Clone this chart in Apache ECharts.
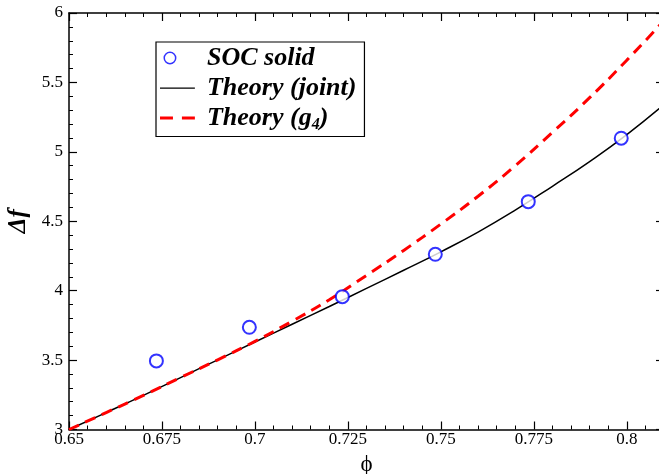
<!DOCTYPE html>
<html>
<head>
<meta charset="utf-8">
<script src="https://cdn.jsdelivr.net/npm/echarts@6/dist/echarts.min.js"></script>
<style>html,body{margin:0;padding:0;background:#fff;}#c{width:659px;height:474px;}</style>
</head>
<body>
<div id="c"></div>
<script>
// Data
const socX = [0.6735, 0.6985, 0.7235, 0.7485, 0.7735, 0.7985];
const socY = [3.494, 3.736, 3.957, 4.262, 4.641, 5.098];

const theoryX = [0.65, 0.66, 0.67, 0.68, 0.69, 0.70, 0.71, 0.72, 0.73, 0.74, 0.75, 0.76, 0.77, 0.78, 0.79, 0.80, 0.81];
const jointY  = [3.000, 3.122, 3.246, 3.374, 3.502, 3.630, 3.758, 3.886, 4.016, 4.147, 4.280, 4.422, 4.580, 4.752, 4.930, 5.124, 5.340];
const g4Y     = [3.000, 3.122, 3.246, 3.374, 3.502, 3.635, 3.780, 3.935, 4.110, 4.290, 4.480, 4.680, 4.900, 5.140, 5.390, 5.660, 5.945];

const xTicks = ['0.65', '0.675', '0.7', '0.725', '0.75', '0.775', '0.8'];
const yTicks = ['3', '3.5', '4', '4.5', '5', '5.5', '6'];

const seriesNames = ['SOC solid', 'Theory (joint)', 'Theory (g4)'];

const zip = (xs, ys) => xs.map((x, i) => [x, ys[i]]);

const chart = echarts.init(document.getElementById('c'), null, {renderer: 'canvas'});
const serif = 'Liberation Serif, Times New Roman, serif';
const axisCommon = {
  type: 'value',
  axisLine: {show: true, onZero: false, lineStyle: {color: '#000', width: 1.5}},
  axisTick: {show: true, inside: true, length: 8, lineStyle: {color: '#000', width: 1.2}},
  minorTick: {show: true, splitNumber: 5, length: 4, lineStyle: {color: '#000', width: 1}},
  splitLine: {show: false},
  minorSplitLine: {show: false}
};
const box = 'M0,0h0.05v0.05h-0.05zM0,14h0.05v0.05h-0.05zM35,0h0.05v0.05h-0.05zM35,14h0.05v0.05h-0.05z';
const ringIcon = 'path://' + box + 'M3.5,7a6.5,6.5 0 1,0 13,0a6.5,6.5 0 1,0 -13,0zM5,7a5,5 0 1,1 10,0a5,5 0 1,1 -10,0z';
const solidIcon = 'path://' + box + 'M0,6.4h35v1.3h-35z';
const dashIcon = 'path://' + box + 'M0,5.5h13v3h-13zM22,5.5h13v3h-13z';
const lf = {fontFamily: serif, fontWeight: 'bold', fontStyle: 'italic', color: '#000'};
chart.setOption({
  animation: false,
  backgroundColor: '#fff',
  grid: {left: 69, right: -5, top: 13, bottom: 44.5, containLabel: false, outerBoundsMode: 'none'},
  legend: {
    orient: 'vertical',
    left: 156, top: 42,
    padding: [3, 8, 4, 4],
    borderColor: '#000', borderWidth: 1.2,
    backgroundColor: '#fff',
    itemWidth: 35, itemHeight: 14, itemGap: 4,
    data: [
      {name: seriesNames[0], icon: ringIcon, itemStyle: {color: '#0000ff', borderWidth: 0}},
      {name: seriesNames[1], icon: solidIcon, itemStyle: {color: '#000', borderWidth: 0}},
      {name: seriesNames[2], icon: dashIcon, itemStyle: {color: '#f00', borderWidth: 0}}
    ],
    formatter: function (n) {
      if (n === 'Theory (g4)') return '{p|Theory (g}{s|4}{a|)}';
      return '{p|' + n + '}';
    },
    textStyle: Object.assign({fontSize: 26}, lf, {
      rich: {
        p: Object.assign({fontSize: 26, padding: [0, 0, 0, 7]}, lf),
        a: Object.assign({fontSize: 26}, lf),
        s: Object.assign({fontSize: 16, verticalAlign: 'bottom', padding: [13, 0, 0, 0]}, lf)
      }
    })
  },
  xAxis: [
    Object.assign({}, axisCommon, {
      position: 'bottom', min: 0.65, max: 0.81, interval: 0.025,
      name: 'ϕ', nameLocation: 'middle', nameGap: 24, nameMoveOverlap: false,
      nameTextStyle: {fontFamily: serif, fontSize: 23, color: '#000'},
      axisLabel: {
        show: true, color: '#000', fontFamily: serif, fontSize: 17, margin: 2, showMaxLabel: false,
        formatter: v => { const i = Math.round((v - 0.65) / 0.025); return xTicks[i] !== undefined ? xTicks[i] : ''; }
      }
    }),
    Object.assign({}, axisCommon, {
      position: 'top', min: 0.65, max: 0.81, interval: 0.025,
      axisLabel: {show: false}
    })
  ],
  yAxis: [
    Object.assign({}, axisCommon, {
      position: 'left', min: 3, max: 6, interval: 0.5,
      name: 'Δf', nameLocation: 'middle', nameGap: 38, nameRotate: 90, nameMoveOverlap: false,
      nameTextStyle: {fontFamily: serif, fontSize: 25, fontWeight: 'bold', fontStyle: 'italic', color: '#000'},
      axisLabel: {
        show: true, color: '#000', fontFamily: serif, fontSize: 17, margin: 6,
        formatter: v => { const i = Math.round((v - 3) / 0.5); return yTicks[i] !== undefined ? yTicks[i] : ''; }
      }
    }),
    Object.assign({}, axisCommon, {
      position: 'right', min: 3, max: 6, interval: 0.5,
      axisLabel: {show: false}
    })
  ],
  series: [
    {
      name: seriesNames[1], type: 'line', data: zip(theoryX, jointY), smooth: true,
      symbol: 'none', lineStyle: {color: '#000', width: 1.5}, itemStyle: {color: '#000'}, z: 2
    },
    {
      name: seriesNames[2], type: 'line', data: zip(theoryX, g4Y), smooth: true,
      symbol: 'none', lineStyle: {color: '#f00', width: 3, type: [11, 7]}, itemStyle: {color: '#f00'}, z: 3
    },
    {
      name: seriesNames[0], type: 'scatter', data: zip(socX, socY),
      symbol: 'emptyCircle', symbolSize: 13,
      itemStyle: {color: '#0000ff', borderColor: '#0000ff', borderWidth: 1.6}, z: 4
    }
  ]
});
</script>
</body>
</html>
